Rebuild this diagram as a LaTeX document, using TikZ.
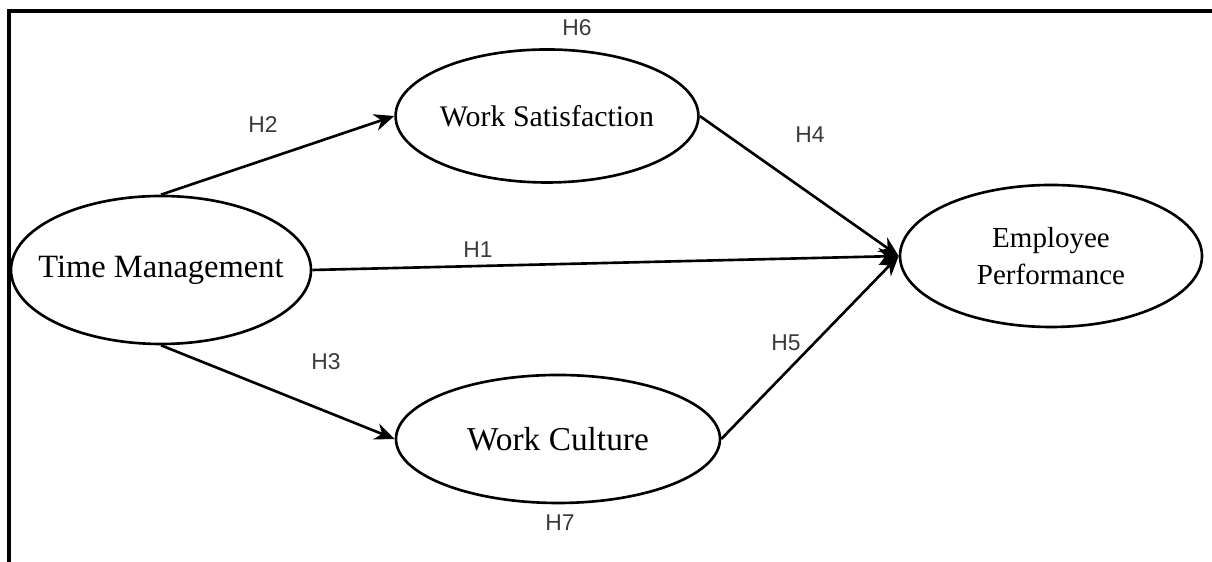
\documentclass[tikz,border=0pt]{standalone}
\usepackage{fontspec}
\setmainfont{Liberation Serif}
\newfontfamily\hypfont{Liberation Sans}
\usepackage{xcolor}
\usetikzlibrary{shapes.geometric, arrows.meta, positioning}
\definecolor{hypgray}{HTML}{3A3A3A}

\begin{document}
\begin{tikzpicture}[
  construct/.style={draw, ellipse, line width=1.5pt, inner sep=0pt, align=center},
  hyp/.style={font=\hypfont\fontsize{13}{15}\selectfont, text=hypgray, inner sep=0pt},
  path/.style={-{Stealth[length=4mm, width=3.4mm]}, line width=1.5pt},
]
  \useasboundingbox (0,0) rectangle (24.24,11.24);
  % frame
  \draw[line width=2pt] (0.18,0) -- (0.18,11.02) -- (24.24,11.02);

  \node[construct, inner xsep=-0.36cm, minimum width=6cm, minimum height=2.96cm, font=\fontsize{18.5}{22}\selectfont] (tm) at (3.22, 5.84) {Time Management};
  \node[construct, minimum width=6.02cm, minimum height=2.66cm, font=\fontsize{17}{20}\selectfont] (ws) at (10.94, 8.92) {Work Satisfaction};
  \node[construct, minimum width=6.48cm, minimum height=2.56cm, font=\fontsize{19}{22}\selectfont] (wc) at (11.16, 2.46) {Work Culture};
  \node[construct, minimum width=6.04cm, minimum height=2.84cm, font=\fontsize{16.5}{21}\selectfont] (ep) at (21.02, 6.12) {Employee\\Performance};

  \draw[path] (tm.north) -- (ws.west);
  \draw[path] (tm.south) -- (wc.west);
  \draw[path] (tm.east) -- (ep.west);
  \draw[path] (ws.east) -- (ep.west);
  \draw[path] (wc.east) -- (ep.west);

  \node[hyp] (h1) at (9.56, 6.24) {H1};
  \node[hyp] (h2) at (5.26, 8.74) {H2};
  \node[hyp] (h3) at (6.52, 4.00) {H3};
  \node[hyp] (h4) at (16.20, 8.54) {H4};
  \node[hyp] (h5) at (15.72, 4.38) {H5};
  \node[hyp] (h6) at (11.54, 10.68) {H6};
  \node[hyp] (h7) at (11.20, 0.78) {H7};
\end{tikzpicture}
\end{document}
